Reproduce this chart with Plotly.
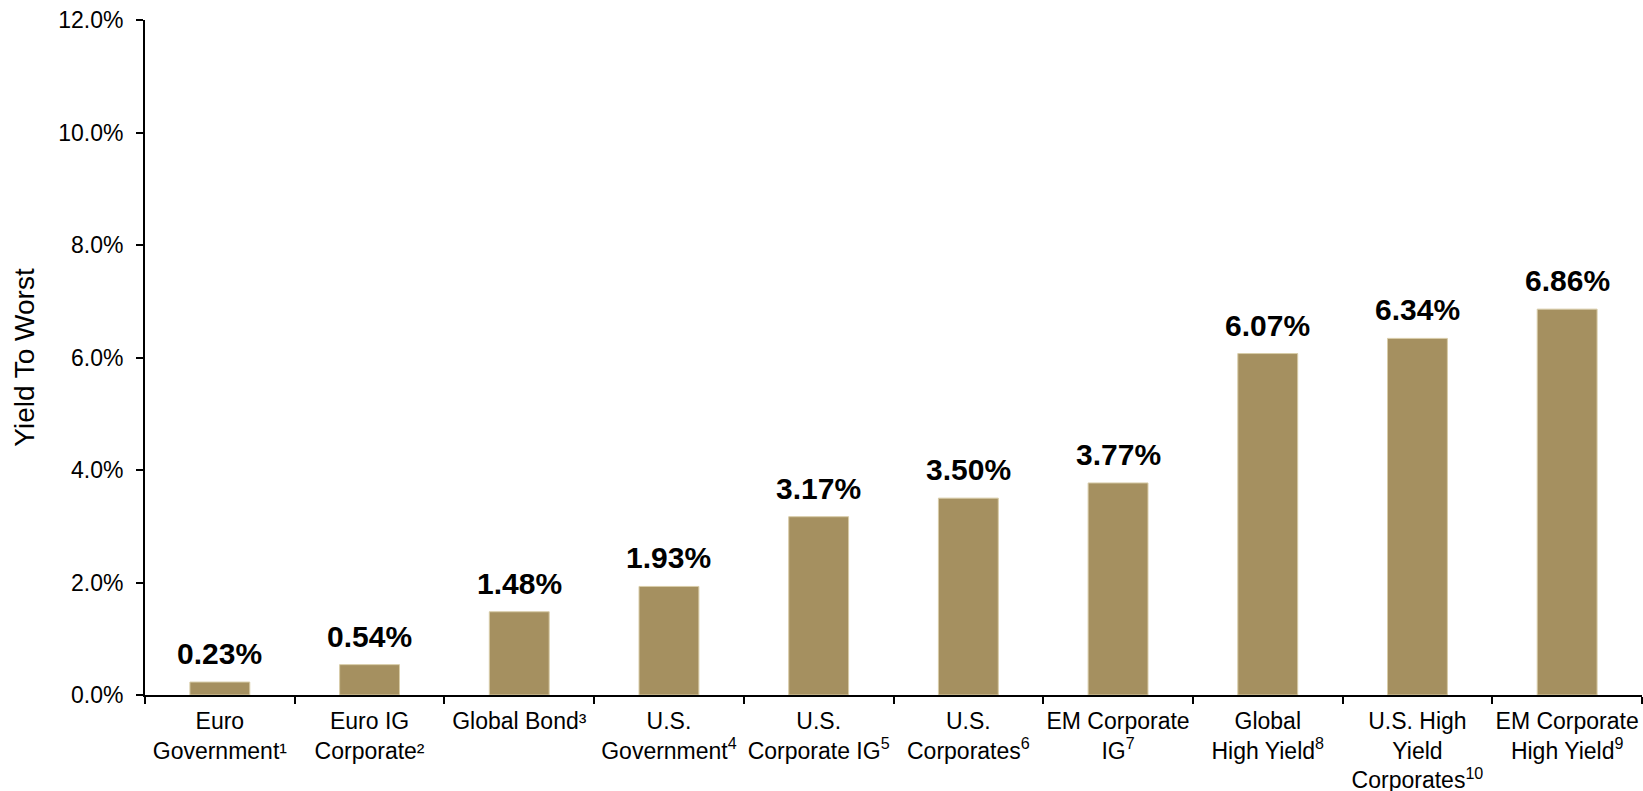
import plotly.graph_objects as go

# Bond sector yields to worst (percent)
categories = [
    "Euro<br>Government¹",
    "Euro IG<br>Corporate²",
    "Global Bond³",
    "U.S.<br>Government<sup>4</sup>",
    "U.S.<br>Corporate IG<sup>5</sup>",
    "U.S.<br>Corporates<sup>6</sup>",
    "EM Corporate<br>IG<sup>7</sup>",
    "Global<br>High Yield<sup>8</sup>",
    "U.S. High<br>Yield<br>Corporates<sup>10</sup>",
    "EM Corporate<br>High Yield<sup>9</sup>",
]
yields = [0.23, 0.54, 1.48, 1.93, 3.17, 3.50, 3.77, 6.07, 6.34, 6.86]
y_ticks = [0, 2, 4, 6, 8, 10, 12]

BAR_COLOR = "#A59060"
FONT = "Liberation Sans, Arial, sans-serif"

fig = go.Figure()
fig.add_trace(go.Bar(
    x=categories,
    y=yields,
    width=0.4,
    marker=dict(color=BAR_COLOR, line=dict(color="#D8CCA8", width=1)),
    hoverinfo="skip",
))

# Bold value labels above each bar
for cat, val in zip(categories, yields):
    fig.add_annotation(
        x=cat, y=val, text=f"<b>{val:.2f}%</b>",
        showarrow=False, yanchor="bottom", yshift=10,
        font=dict(family=FONT, size=30, color="#000000"),
    )

fig.update_layout(
    width=1643, height=791,
    margin=dict(l=145, r=1, t=20, b=96),
    paper_bgcolor="white",
    plot_bgcolor="white",
    showlegend=False,
    bargap=0.6,
    font=dict(family=FONT, size=23, color="#000000"),
)
fig.update_xaxes(
    type="category",
    automargin=False,
    tickangle=0,
    ticklabelstandoff=4,
    showline=True, linecolor="#000000", linewidth=2,
    ticks="outside", tickson="boundaries", ticklen=7, tickwidth=2, tickcolor="#000000",
    showgrid=False, zeroline=False,
    tickfont=dict(family=FONT, size=23, color="#000000"),
)
fig.update_yaxes(
    automargin=False,
    range=[0, 12],
    tickvals=y_ticks,
    ticktext=[f"{v:.1f}%" for v in y_ticks],
    showline=True, linecolor="#000000", linewidth=2,
    ticks="outside", ticklen=7, tickwidth=2, tickcolor="#000000",
    showgrid=False, zeroline=False,
    tickfont=dict(family=FONT, size=23, color="#000000"),
    ticklabelstandoff=8,
    title=dict(text="Yield To Worst", font=dict(family=FONT, size=28, color="#000000")),
)

fig.write_html("out.html")
